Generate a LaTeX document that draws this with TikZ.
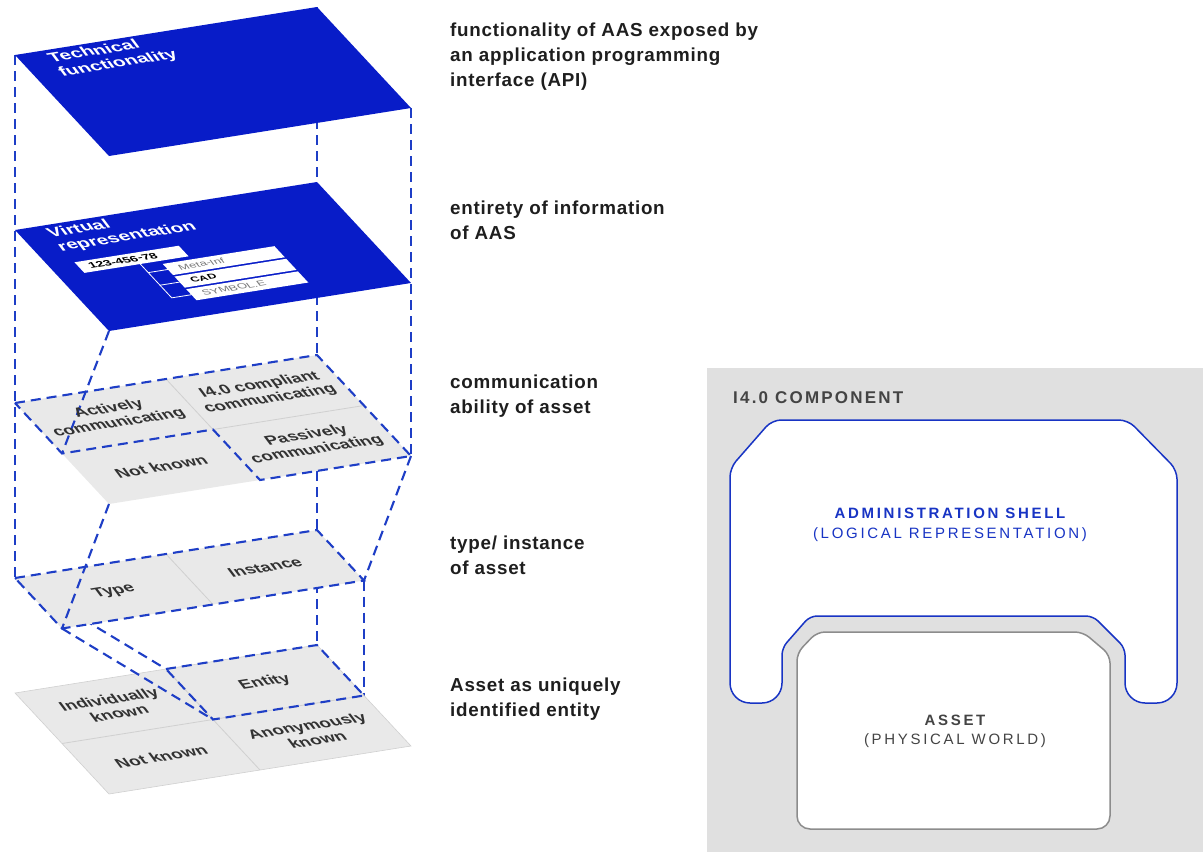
\documentclass[tikz,border=0pt]{standalone}
\usepackage{fontspec}
\setmainfont{Liberation Sans}
\newfontfamily\headfont{Liberation Sans}[LetterSpace=4]
\newfontfamily\compfont{Liberation Sans}[LetterSpace=13]
\newfontfamily\shellfont{Liberation Sans}[LetterSpace=18]
\definecolor{planeblue}{RGB}{8,28,200}
\definecolor{dashblue}{RGB}{30,62,198}
\definecolor{cellgrey}{RGB}{233,233,233}
\definecolor{divgrey}{RGB}{208,208,208}
\definecolor{compgrey}{RGB}{224,224,224}
\definecolor{textdark}{RGB}{30,30,30}
\definecolor{celltext}{RGB}{50,50,50}
\definecolor{labelgrey}{RGB}{68,68,68}
\definecolor{shellblue}{RGB}{24,52,196}
\definecolor{assetline}{RGB}{140,140,140}
\definecolor{boxgrey}{RGB}{120,120,120}
\newcommand\planetext[5]{%
  \begin{scope}[shift={#2}, #3]
    \node[transform shape, inner sep=0pt, #4] (#1) at (0,0) {#5};
  \end{scope}}
\begin{document}
\begin{tikzpicture}[x=1pt,y=-1pt,
  projline/.style={draw=dashblue, line width=2.1pt, dash pattern=on 10pt off 6pt},
  divider/.style={draw=divgrey, line width=0.8pt},
  bluetf/.style={cm={1.778,0.283,-0.84,1.12,(0,0)}},
  boxtf/.style={cm={1.955,0.311,-0.84,1.12,(0,0)}},
  greytf/.style={cm={1.6,0.254,-0.84,1.12,(0,0)}},
  plabel/.style={text=white, font=\bfseries\fontsize{11}{12.5}\selectfont, align=left, anchor=north west},
  clabel/.style={text=celltext, font=\bfseries\fontsize{11}{12.5}\selectfont, align=center},
  boxlabel/.style={anchor=west, font=\fontsize{6.3}{7}\selectfont},
  desc/.style={text=textdark, font=\headfont\bfseries\fontsize{18.8}{25}\selectfont, align=left, anchor=base west, inner sep=0pt},
]
\useasboundingbox (0,0) rectangle (1203,852);
% plane corners
\coordinate (L1) at (15,55);  \coordinate (T1) at (317,7);   \coordinate (R1) at (411,108); \coordinate (B1) at (109,156);
\coordinate (L2) at (15,230); \coordinate (T2) at (317,182); \coordinate (R2) at (411,283); \coordinate (B2) at (109,331);
\coordinate (L3) at (15,403); \coordinate (T3) at (317,355); \coordinate (R3) at (411,456); \coordinate (B3) at (109,504);
\coordinate (L4) at (15,578); \coordinate (T4) at (317,530); \coordinate (R4) at (364,580.5); \coordinate (B4) at (62,628.5);
\coordinate (L5) at (15,693); \coordinate (T5) at (317,645); \coordinate (R5) at (411,746); \coordinate (B5) at (109,794);
\coordinate (ml3) at (62,453.5); \coordinate (mb3) at (260,480); \coordinate (c3) at (213,429.5);
\coordinate (mt3) at (166,379); \coordinate (mr3) at (364,405.5);
\coordinate (mt4) at (166,554); \coordinate (mb4) at (213,604.5);
\coordinate (mt5) at (166,669); \coordinate (mr5) at (364,695.5); \coordinate (c5) at (213,719.5);
\coordinate (ml5) at (62,743.5); \coordinate (mb5) at (260,770);
% hidden projection lines
\draw[projline] (L1) -- (L4);
\draw[projline] (T1) -- (T5);
\draw[projline] (R1) -- (R3);
\draw[projline] (R4) -- (mr5);
\draw[projline] (L4) -- (mt5);
% planes
\fill[planeblue] (L1) -- (T1) -- (R1) -- (B1) -- cycle;
\fill[planeblue] (L2) -- (T2) -- (R2) -- (B2) -- cycle;
\fill[cellgrey] (L3) -- (T3) -- (R3) -- (B3) -- cycle;
\fill[cellgrey] (L4) -- (T4) -- (R4) -- (B4) -- cycle;
\filldraw[fill=cellgrey, draw=divgrey, line width=0.6pt] (L5) -- (T5) -- (R5) -- (B5) -- cycle;
% cell dividers
\draw[divider] (mt3) -- (c3) -- (mr3);
\draw[divider] (mt4) -- (mb4);
\draw[divider] (mt5) -- (mb5);
\draw[divider] (ml5) -- (mr5);
% boxes on the virtual representation plane
\begin{scope}[cm={3.02,0.48,0.94,-1.01,(15pt,-230pt)}, x=1pt, y=1pt]
  \fill[white] (8.5,36) -- (43,36) -- (43,46.5) -- (8.5,46.5) -- cycle;
  \fill[white] (33.5,49.5) -- (70.5,49.5) -- (70.5,60.5) -- (33.5,60.5) -- cycle;
  \fill[white] (33.5,62) -- (70.5,62) -- (70.5,73) -- (33.5,73) -- cycle;
  \fill[white] (33.5,74.5) -- (70.5,74.5) -- (70.5,85.5) -- (33.5,85.5) -- cycle;
  \draw[white, line width=0.8pt] (27,46.5) -- (27,80) -- (33.5,80);
  \draw[white, line width=0.8pt] (27,55) -- (33.5,55);
  \draw[white, line width=0.8pt] (27,67.5) -- (33.5,67.5);
  \coordinate (pb1) at (11.5,41.25);
  \coordinate (pb2) at (37,55);
  \coordinate (pb3) at (37,67.5);
  \coordinate (pb4) at (37,80);
\end{scope}
% dashed outlines and visible projection lines
\draw[projline] (L3) -- (T3) -- (R3) -- (mb3) -- (c3) -- (ml3) -- cycle;
\draw[projline] (L4) -- (T4) -- (R4) -- (B4) -- cycle;
\draw[projline] (mt5) -- (T5) -- (mr5) -- (c5) -- cycle;
\draw[projline] (B2) -- (ml3);
\draw[projline] (B3) -- (B4);
\draw[projline] (R3) -- (R4);
\draw[projline] (B4) -- (c5);
% plane texts
\planetext{ttech}{(45,53)}{bluetf}{plabel}{Technical\\functionality}
\planetext{tvirt}{(44,228)}{bluetf}{plabel}{Virtual\\representation}
\planetext{tb1}{(pb1)}{boxtf}{boxlabel, font=\bfseries\fontsize{6.8}{7}\selectfont, text=black}{123-456-78}
\planetext{tb2}{(pb2)}{boxtf}{boxlabel, text=boxgrey}{Meta-Inf}
\planetext{tb3}{(pb3)}{boxtf}{boxlabel, font=\bfseries\fontsize{6}{7}\selectfont, text=black}{CAD}
\planetext{tb4}{(pb4)}{boxtf}{boxlabel, text=boxgrey}{SYMBOL.E}
\planetext{tact}{(114,416.25)}{greytf}{clabel}{Actively\\communicating}
\planetext{tcomp}{(265,392.25)}{greytf}{clabel}{I4.0 compliant\\communicating}
\planetext{tnk1}{(161,466.75)}{greytf}{clabel}{Not known}
\planetext{tpass}{(312,442.75)}{greytf}{clabel}{Passively\\communicating}
\planetext{ttype}{(114,591.25)}{greytf}{clabel}{Type}
\planetext{tinst}{(265,567.25)}{greytf}{clabel}{Instance}
\planetext{tind}{(114,706.25)}{greytf}{clabel}{Individually\\known}
\planetext{tent}{(265,682.25)}{greytf}{clabel}{Entity}
\planetext{tnk2}{(161,756.75)}{greytf}{clabel}{Not known}
\planetext{tanon}{(312,732.75)}{greytf}{clabel}{Anonymously\\known}
% descriptions (base anchor = last line)
\node[desc] (d1) at (450,86.5) {functionality of AAS exposed by\\an application programming\\interface (API)};
\node[desc] (d2) at (450,239.5) {entirety of information\\of AAS};
\node[desc] (d3) at (450,413) {communication\\ability of asset};
\node[desc] (d4) at (450,574) {type/ instance\\of asset};
\node[desc] (d5) at (450,716) {Asset as uniquely\\identified entity};
% I4.0 component
\fill[compgrey] (707,368) rectangle (1203,852);
\node[anchor=base west, inner sep=0pt, text=labelgrey, font=\compfont\bfseries\fontsize{17}{20}\selectfont] (comp) at (733,403.5) {I4.0 COMPONENT};
\draw[shellblue, line width=1.5pt, fill=white] (730,600) [rounded corners=9pt] -- (730,468) -- (772,420) -- (1128,420) -- (1177,470) [rounded corners=20pt] -- (1177,703) -- (1125,703) [rounded corners=7pt] -- (1125,648) -- (1093,616) -- (810,616) -- (782,648) [rounded corners=20pt] -- (782,703) -- (730,703) [rounded corners=9pt] -- cycle;
\draw[assetline, line width=1.5pt, fill=white] (797,740) [rounded corners=8pt] -- (797,653) -- (817,632) -- (1083,632) -- (1110,655) [rounded corners=13pt] -- (1110,829) -- (797,829) [rounded corners=8pt] -- cycle;
\node[anchor=base, inner sep=0pt, text=shellblue, align=center, font=\shellfont\fontsize{15}{20}\selectfont] (shell) at (950,538) {{\bfseries ADMINISTRATION SHELL}\\(LOGICAL REPRESENTATION)};
\node[anchor=base, inner sep=0pt, text=labelgrey, align=center, font=\shellfont\fontsize{15}{19}\selectfont] (asset) at (955,744) {{\bfseries ASSET}\\(PHYSICAL WORLD)};
\end{tikzpicture}
\end{document}
